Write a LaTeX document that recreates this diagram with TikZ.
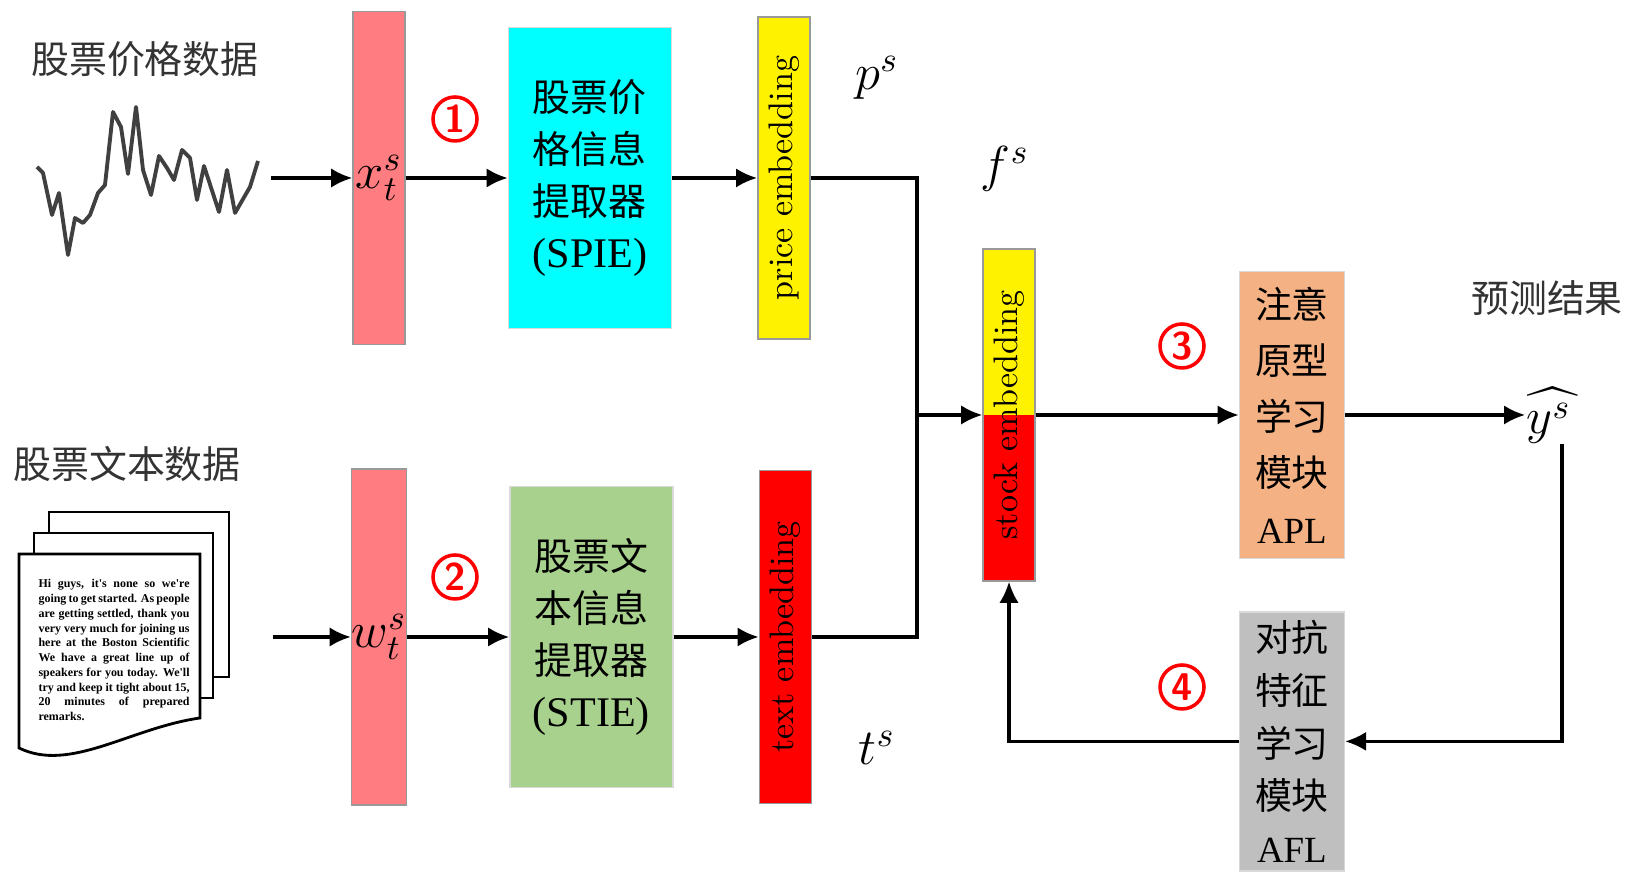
\documentclass[tikz,border=0pt]{standalone}
\usepackage{fontspec}
\usepackage{graphicx}
\usepackage{amsmath,amssymb}
\usetikzlibrary{arrows.meta,positioning,calc}
\newfontfamily\cjk{Noto Sans CJK SC}
\newfontfamily\tms{Liberation Serif}

\definecolor{barred}{HTML}{FF7C80}
\definecolor{spiecyan}{HTML}{00FFFF}
\definecolor{stiegreen}{HTML}{A9D18E}
\definecolor{aplorange}{HTML}{F4B183}
\definecolor{aflgray}{HTML}{BFBFBF}
\definecolor{wavegray}{HTML}{404040}

\tikzset{
  bar/.style={draw=black!40,line width=0.4pt,minimum width=0.52cm,inner sep=0pt},
  module/.style={draw=black!15,line width=0.4pt,inner sep=0pt,align=center,minimum width=1.05cm},
  num/.style={circle,draw=red,text=red,line width=1pt,minimum size=0.44cm,inner sep=0pt,font=\sffamily\bfseries\fontsize{11}{11}\selectfont},
  emb/.style={font=\fontsize{9.7}{10}\selectfont},
  sym/.style={font=\fontsize{14.4}{14.4}\selectfont},
  head/.style={font=\cjk\fontsize{10.8}{12}\selectfont,text=black!80},
}

\begin{document}
\begin{tikzpicture}[line width=0.9pt,>={Latex[length=6pt,width=5.5pt]}]
\useasboundingbox (0,0) rectangle (16.28,8.73);

% price branch
\node[bar,fill=barred,minimum height=3.33cm,sym] (xbar) at (3.79,6.95) {$x_t^s$};
\node[module,fill=spiecyan,minimum width=1.63cm,minimum height=3.01cm,right=1.02cm of xbar,font=\cjk\fontsize{10.8}{14.8}\selectfont] (spie) {股票价\\格信息\\提取器\\{\tms\fontsize{12}{14.8}\selectfont (SPIE)}};
\node[bar,fill=yellow,minimum height=3.22cm,right=0.85cm of spie,emb] (pemb) {\rotatebox{90}{price embedding}};

% text branch
\node[bar,fill=barred,minimum height=3.36cm,sym] (wbar) at (3.79,2.36) {$w_t^s$};
\node[module,fill=stiegreen,minimum width=1.63cm,minimum height=3.01cm,right=1.02cm of wbar,font=\cjk\fontsize{10.8}{14.8}\selectfont] (stie) {股票文\\本信息\\提取器\\{\tms\fontsize{12}{14.8}\selectfont (STIE)}};
\node[bar,fill=red,minimum height=3.33cm,right=0.85cm of stie,emb] (temb) {\rotatebox{90}{text embedding}};

% fused embedding and the two modules
\node[bar,fill=red,minimum height=3.32cm,emb,
  path picture={\fill[yellow] (path picture bounding box.north west) rectangle (path picture bounding box.east);}]
  (stock) at (10.09,4.58) {\rotatebox{90}{stock embedding}};
\node[module,fill=aplorange,minimum height=2.87cm,right=2.03cm of stock,font=\cjk\fontsize{10.5}{16}\selectfont] (apl) {注意\\原型\\学习\\模块\\{\tms APL}};
\node[module,fill=aflgray,minimum height=2.59cm,below=0.52cm of apl,font=\cjk\fontsize{10.5}{15}\selectfont] (afl) {对抗\\特征\\学习\\模块\\{\tms AFL}};
\node[right=1.8cm of apl,inner sep=0pt,sym] (yhat) {$\widehat{y^{s}\,}$};

\node[sym] (ps) at (8.77,7.95) {$p^s$};
\node[sym] (fs) at (10.05,7.04) {$f^s$};
\node[sym] (ts) at (8.77,1.25) {$t^s$};

\node[num] (n1) at (4.55,7.54) {1};
\node[num] (n2) at (4.55,2.96) {2};
\node[num] (n3) at (11.82,5.27) {3};
\node[num] (n4) at (11.82,1.86) {4};

\node[head] (hp) at (1.45,8.14) {股票价格数据};
\node[head] (ht) at (1.27,4.09) {股票文本数据};
\node[head] (hy) at (15.47,5.75) {预测结果};

% price curve
\draw[wavegray,line width=1.1pt,line join=round] plot coordinates {
  (0.37,7.06) (0.43,7.00) (0.52,6.58) (0.59,6.80) (0.68,6.18) (0.75,6.55)
  (0.83,6.50) (0.90,6.58) (0.98,6.80) (1.05,6.88) (1.13,7.61) (1.21,7.46)
  (1.28,6.99) (1.36,7.66) (1.43,7.03) (1.51,6.78) (1.59,7.17) (1.67,7.05)
  (1.74,6.93) (1.82,7.23) (1.90,7.15) (1.97,6.73) (2.04,7.07) (2.19,6.61)
  (2.27,7.03) (2.35,6.60) (2.50,6.86) (2.58,7.12)};

% stack of news pages
\draw[fill=white,line width=0.8pt] (0.49,3.61) rectangle (2.29,1.96);
\draw[fill=white,line width=0.8pt] (0.34,3.40) rectangle (2.13,1.75);
\draw[fill=white,line width=0.8pt] (0.19,3.19) -- (2.00,3.19) -- (2.00,1.55)
  .. controls (1.30,1.45) and (0.70,1.00) .. (0.19,1.25) -- cycle;
\node[anchor=north west,inner sep=0pt,align=left,font=\tms\bfseries\fontsize{3.4}{4.2}\selectfont] (memo) at (0.37,2.95)
  {\makebox[1.51cm][s]{Hi guys, it's none so we're}\\
   \makebox[1.51cm][s]{going to get started. As people}\\
   \makebox[1.51cm][s]{are getting settled, thank you}\\
   \makebox[1.51cm][s]{very very much for joining us}\\
   \makebox[1.51cm][s]{here at the Boston Scientific}\\
   \makebox[1.51cm][s]{We have a great line up of}\\
   \makebox[1.51cm][s]{speakers for you today. We'll}\\
   \makebox[1.51cm][s]{try and keep it tight about 15,}\\
   \makebox[1.51cm][s]{20 minutes of prepared}\\
   remarks.};

\coordinate[left=0.81cm of xbar] (pin);
\coordinate[left=0.78cm of wbar] (tin);
\coordinate (jn) at (9.17,4.58);

\draw[->] (pin) -- (xbar);
\draw[->] (xbar) -- (spie);
\draw[->] (spie) -- (pemb);
\draw[->] (tin) -- (wbar);
\draw[->] (wbar) -- (stie);
\draw[->] (stie) -- (temb);
\draw (pemb.east) -| (jn);
\draw (temb.east) -| (jn);
\draw[->] (jn) -- (stock);
\draw[->] (stock) -- (apl);
\draw[->] (apl) -- (yhat);
\draw[->] ([xshift=0.9mm]yhat.south) |- (afl);
\draw[->] (afl) -| (stock);
\end{tikzpicture}
\end{document}
